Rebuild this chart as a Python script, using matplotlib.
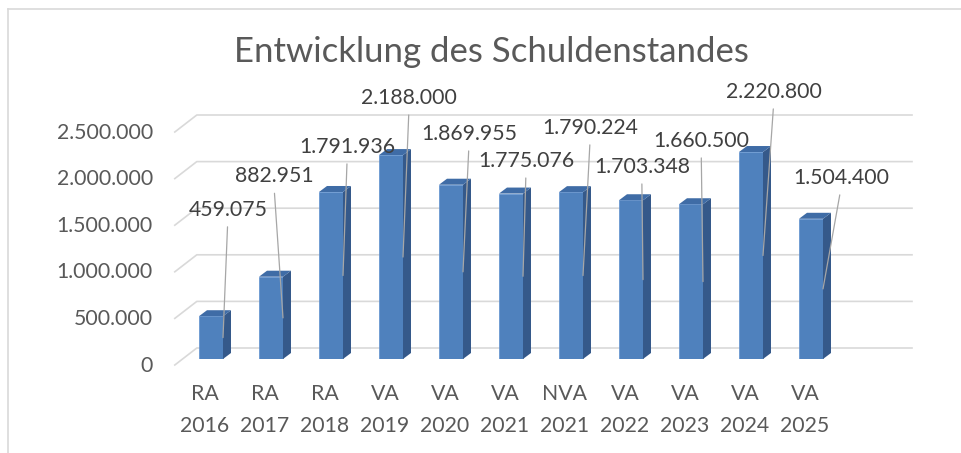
import matplotlib.pyplot as plt
from matplotlib.patches import Polygon
from matplotlib.lines import Line2D

KATEGORIEN = ["RA\n2016", "RA\n2017", "RA\n2018", "VA\n2019", "VA\n2020", "VA\n2021",
              "NVA\n2021", "VA\n2022", "VA\n2023", "VA\n2024", "VA\n2025"]
WERTE = [459075, 882951, 1791936, 2188000, 1869955, 1775076,
         1790224, 1703348, 1660500, 2220800, 1504400]
Y_TICKS = [0, 500000, 1000000, 1500000, 2000000, 2500000]

# manually moved data labels (centre, x in categories, y in value units)
LABEL_POS = [(0.28, 1.60e6), (1.05, 1.96e6), (2.27, 2.275e6), (3.30, 2.80e6),
             (4.30, 2.414e6), (5.25, 2.124e6), (6.32, 2.479e6), (7.18, 2.06e6),
             (8.17, 2.339e6), (9.38, 2.865e6), (10.5, 1.942e6)]

FONT = ["Lato", "DejaVu Sans"]
TXT = "#595959"
FRONT = "#4f81bd"
SIDE = "#35598a"
TOP = "#3f6ca6"
GRID = "#d9d9d9"


def fmt(v):
    return f"{v:,}".replace(",", ".")


def main():
    plt.rcParams["font.family"] = FONT
    fig = plt.figure(figsize=(9.62, 4.53), dpi=100)
    W, H = 962, 453
    xmin, xmax = -0.5, 11.7
    ax = fig.add_axes([181 / W, 94 / H, (xmax - xmin) * 60 / W, 233 / H])
    ax.set_xlim(xmin, xmax)
    ax.set_ylim(0, 2500000)
    ax.axis("off")

    # pixel -> data scale
    p0 = ax.transData.transform((0, 0))
    p1 = ax.transData.transform((1, 1000000))
    sx = p1[0] - p0[0]
    sy = (p1[1] - p0[1]) / 1000000

    # back wall gridlines with the 3d floor diagonal
    x0, x1 = -0.47, 11.45
    for t in Y_TICKS:
        ax.plot([x0 - 8 / sx, x0 + 14 / sx, x1 + 14 / sx],
                [t - 6 / sy, t + 11 / sy, t + 11 / sy],
                color=GRID, lw=1.2, clip_on=False, zorder=1)
        ax.text(xmin - 28 / sx, t - 6.5 / sy, fmt(t), ha="right", va="center",
                fontsize=15.3, color=TXT)

    # columns
    w = 24 / sx
    dx, dy = 8 / sx, 6 / sy
    idx = list(range(len(WERTE)))
    ax.bar(idx, WERTE, width=w, color=FRONT, edgecolor="#5e90cf", linewidth=0.5, zorder=3)
    for i, v in zip(idx, WERTE):
        r, l = i + w / 2, i - w / 2
        ax.add_patch(Polygon([(r, 0), (r + dx, dy), (r + dx, v + dy), (r, v)],
                             closed=True, facecolor=SIDE, edgecolor="none", zorder=3))
        ax.add_patch(Polygon([(l, v), (l + dx, v + dy), (r + dx, v + dy), (r, v)],
                             closed=True, facecolor=TOP, edgecolor="none", zorder=3))

    # data labels with leader lines
    for i, v, (lx, ly) in zip(idx, WERTE, LABEL_POS):
        ax.annotate(fmt(v), xy=(i + w / 2, v / 2), xytext=(lx, ly), textcoords="data",
                    ha="center", va="center", fontsize=15.3, color="#404040", zorder=5,
                    arrowprops=dict(arrowstyle="-", color="#a6a6a6", lw=0.9,
                                    shrinkA=3, shrinkB=0, relpos=(0.5, 0)))

    # category labels
    for i, c in zip(idx, KATEGORIEN):
        ax.text(i - 6 / sx, -51 / sy, c, ha="center", va="center", fontsize=15.3,
                color=TXT, linespacing=1.7)

    fig.text(491 / W, 1 - 62 / H, "Entwicklung des Schuldenstandes", ha="center",
             va="baseline", fontsize=25, color=TXT)

    # chart area border (cut off right and bottom)
    fig.add_artist(Line2D([8 / W, 8 / W], [0, 1 - 9 / H], transform=fig.transFigure,
                          color=GRID, lw=1.2))
    fig.add_artist(Line2D([8 / W, 1], [1 - 9 / H, 1 - 9 / H], transform=fig.transFigure,
                          color=GRID, lw=1.2))

    fig.savefig("out.png", dpi=100)


if __name__ == "__main__":
    main()
